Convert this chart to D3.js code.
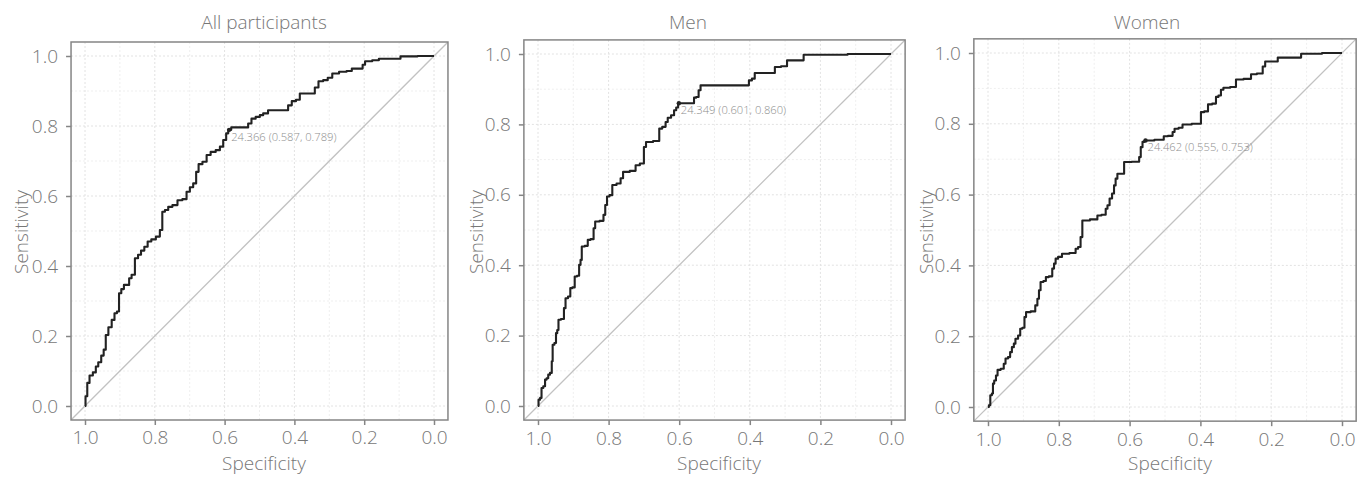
<!DOCTYPE html>
<meta charset="utf-8">
<style>
body{margin:0;background:#fff;}
svg text{font-family:"Open Sans",sans-serif;font-weight:300;fill:#777;}
.frame{fill:none;stroke:#858585;stroke-width:1.5px;}
.grid line{stroke:#e2e2e2;stroke-width:1px;stroke-dasharray:2,2;}
.grid line.minor{stroke:#efefef;}
.diag{stroke:#c2c2c2;stroke-width:1.3px;}
.roc{fill:none;stroke:#222;stroke-width:2.1px;stroke-linejoin:round;}
.axis line{stroke:#858585;stroke-width:1.5px;}
.axis path{display:none;}
.cut{fill:#8e8e8e;}
</style>
<body>
<script src="https://cdn.jsdelivr.net/npm/d3@7"></script>
<script>
var titles=["All participants","Men","Women"];
var ticks=[0,0.2,0.4,0.6,0.8,1];
var minorTicks=[0.1,0.3,0.5,0.7,0.9];

// ROC curves (specificity, sensitivity)
var allSpec=[1.000,0.997,0.990,0.984,0.971,0.967,0.957,0.950,0.943,0.938,0.928,0.919,0.912,0.905,0.900,0.892,0.885,0.876,0.871,0.862,0.852,0.844,0.835,0.825,0.816,0.804,0.790,0.781,0.776,0.766,0.757,0.742,0.728,0.714,0.704,0.695,0.685,0.678,0.671,0.656,0.647,0.633,0.618,0.609,0.599,0.592,0.587,0.575,0.537,0.528,0.518,0.504,0.494,0.485,0.466,0.423,0.413,0.402,0.389,0.380,0.346,0.337,0.325,0.310,0.299,0.284,0.260,0.241,0.230,0.208,0.201,0.194,0.160,0.156,0.098,0.094,0.000];
var allSens=[0.000,0.028,0.066,0.087,0.096,0.113,0.125,0.144,0.161,0.203,0.225,0.246,0.265,0.270,0.322,0.334,0.346,0.346,0.365,0.375,0.422,0.432,0.444,0.455,0.470,0.476,0.484,0.503,0.555,0.560,0.569,0.574,0.588,0.591,0.612,0.625,0.636,0.669,0.691,0.698,0.717,0.726,0.731,0.741,0.760,0.779,0.789,0.796,0.796,0.807,0.821,0.826,0.831,0.836,0.845,0.845,0.859,0.871,0.875,0.893,0.893,0.910,0.928,0.931,0.938,0.950,0.955,0.957,0.964,0.964,0.975,0.985,0.988,0.992,0.992,0.999,1.000];

var menSpec=[1.000,0.997,0.991,0.989,0.981,0.979,0.972,0.970,0.962,0.960,0.957,0.950,0.948,0.943,0.941,0.929,0.924,0.920,0.910,0.907,0.898,0.894,0.885,0.882,0.877,0.875,0.860,0.858,0.844,0.841,0.835,0.816,0.813,0.806,0.803,0.792,0.787,0.768,0.764,0.754,0.726,0.721,0.702,0.698,0.690,0.658,0.655,0.641,0.636,0.629,0.617,0.612,0.605,0.601,0.560,0.556,0.548,0.542,0.537,0.405,0.400,0.388,0.384,0.331,0.327,0.296,0.293,0.249,0.246,0.000];
var menSens=[0.000,0.018,0.023,0.051,0.056,0.075,0.079,0.089,0.094,0.127,0.174,0.179,0.207,0.216,0.245,0.247,0.278,0.306,0.311,0.335,0.337,0.368,0.370,0.401,0.415,0.453,0.455,0.472,0.474,0.505,0.524,0.526,0.543,0.571,0.595,0.599,0.628,0.632,0.647,0.665,0.668,0.684,0.689,0.736,0.750,0.753,0.788,0.793,0.807,0.819,0.826,0.840,0.848,0.860,0.860,0.876,0.878,0.897,0.911,0.911,0.925,0.930,0.946,0.946,0.963,0.965,0.982,0.982,0.998,1.000];

var womenSpec=[1.000,0.995,0.992,0.986,0.986,0.979,0.976,0.970,0.958,0.953,0.948,0.939,0.936,0.929,0.925,0.920,0.910,0.908,0.898,0.896,0.889,0.870,0.863,0.858,0.854,0.849,0.838,0.835,0.821,0.816,0.811,0.807,0.797,0.785,0.755,0.750,0.741,0.736,0.731,0.693,0.689,0.670,0.665,0.660,0.653,0.646,0.642,0.637,0.632,0.618,0.613,0.575,0.571,0.566,0.561,0.555,0.505,0.502,0.481,0.476,0.470,0.453,0.448,0.401,0.396,0.382,0.375,0.358,0.354,0.344,0.340,0.330,0.302,0.297,0.259,0.255,0.226,0.222,0.212,0.184,0.179,0.118,0.113,0.000];
var womenSens=[0.000,0.005,0.033,0.038,0.066,0.075,0.089,0.105,0.108,0.122,0.137,0.141,0.155,0.169,0.179,0.193,0.202,0.221,0.224,0.254,0.268,0.270,0.287,0.306,0.330,0.353,0.356,0.367,0.369,0.391,0.405,0.419,0.424,0.433,0.435,0.447,0.452,0.480,0.527,0.530,0.541,0.543,0.560,0.570,0.589,0.603,0.626,0.645,0.659,0.659,0.692,0.693,0.706,0.734,0.749,0.753,0.755,0.765,0.766,0.777,0.786,0.789,0.798,0.800,0.833,0.835,0.855,0.857,0.876,0.880,0.896,0.902,0.904,0.925,0.927,0.940,0.942,0.962,0.976,0.976,0.987,0.987,0.998,1.000];

// best thresholds
var cutThr=["24.366","24.349","24.462"];
var cutSpec=[0.587,0.601,0.555];
var cutSens=[0.789,0.860,0.753];

var specs=[allSpec,menSpec,womenSpec];
var senses=[allSens,menSens,womenSens];

// where each panel sits: x of spec 1 and 0, y of sens 1 and 0, label centres
var panels=[
  {x1:85, x0:434, y1:56, y0:406, tx:264, sx:264, lx:28},
  {x1:538,x0:891, y1:54, y0:406, tx:688, sx:719, lx:483},
  {x1:988,x0:1342,y1:53, y0:407, tx:1147,sx:1170,lx:933}
];

var svg=d3.select("body").append("svg").attr("width",1358).attr("height",483);
var fmt=d3.format(".1f");
var fs="19px";

panels.forEach(function(p,i){
  var x=d3.scaleLinear().domain([1,0]).range([p.x1,p.x0]);
  var y=d3.scaleLinear().domain([0,1]).range([p.y0,p.y1]);
  var left=x(1.04), right=x(-0.04), top=y(1.04), bottom=y(-0.04);
  var g=svg.append("g");

  g.append("clipPath").attr("id","clip"+i).append("rect")
    .attr("x",left).attr("y",top).attr("width",right-left).attr("height",bottom-top);

  var grid=g.append("g").attr("class","grid");
  grid.selectAll("line.minx").data(minorTicks).enter().append("line").attr("class","minor")
    .attr("x1",function(d){return x(d);}).attr("x2",function(d){return x(d);}).attr("y1",top).attr("y2",bottom);
  grid.selectAll("line.miny").data(minorTicks).enter().append("line").attr("class","minor")
    .attr("y1",function(d){return y(d);}).attr("y2",function(d){return y(d);}).attr("x1",left).attr("x2",right);
  grid.selectAll("line.majx").data(ticks).enter().append("line")
    .attr("x1",function(d){return x(d);}).attr("x2",function(d){return x(d);}).attr("y1",top).attr("y2",bottom);
  grid.selectAll("line.majy").data(ticks).enter().append("line")
    .attr("y1",function(d){return y(d);}).attr("y2",function(d){return y(d);}).attr("x1",left).attr("x2",right);

  g.append("line").attr("class","diag").attr("clip-path","url(#clip"+i+")")
    .attr("x1",x(1.04)).attr("y1",y(-0.04)).attr("x2",x(-0.04)).attr("y2",y(1.04));

  var line=d3.line().curve(d3.curveStep).x(function(d){return x(d[0]);}).y(function(d){return y(d[1]);});
  g.append("path").attr("class","roc").attr("d",line(d3.zip(specs[i],senses[i])));

  g.append("circle").attr("cx",x(cutSpec[i])).attr("cy",y(cutSens[i])).attr("r",2.2).attr("fill","#222");
  g.append("text").attr("class","cut").attr("x",x(cutSpec[i])+2).attr("y",y(cutSens[i])+11)
    .style("font-size","11.2px")
    .text(cutThr[i]+" ("+d3.format(".3f")(cutSpec[i])+", "+d3.format(".3f")(cutSens[i])+")");

  g.append("rect").attr("class","frame").attr("x",left).attr("y",top).attr("width",right-left).attr("height",bottom-top);

  var ax=g.append("g").attr("class","axis").attr("transform","translate(0,"+bottom+")")
    .call(d3.axisBottom(x).tickValues(ticks).tickFormat(fmt).tickSize(5).tickPadding(6));
  var ay=g.append("g").attr("class","axis").attr("transform","translate("+left+",0)")
    .call(d3.axisLeft(y).tickValues(ticks).tickFormat(fmt).tickSize(5).tickPadding(8));
  [ax,ay].forEach(function(a){ a.attr("font-family",null).attr("font-size",null).selectAll("text").style("font-size",fs); });

  g.append("text").attr("x",p.tx).attr("y",29).attr("text-anchor","middle").style("font-size",fs).text(titles[i]);
  g.append("text").attr("x",p.sx).attr("y",470).attr("text-anchor","middle").style("font-size",fs).text("Specificity");
  g.append("text").attr("transform","translate("+p.lx+",232) rotate(-90)").attr("text-anchor","middle")
    .style("font-size",fs).text("Sensitivity");
});
</script>
</body>
